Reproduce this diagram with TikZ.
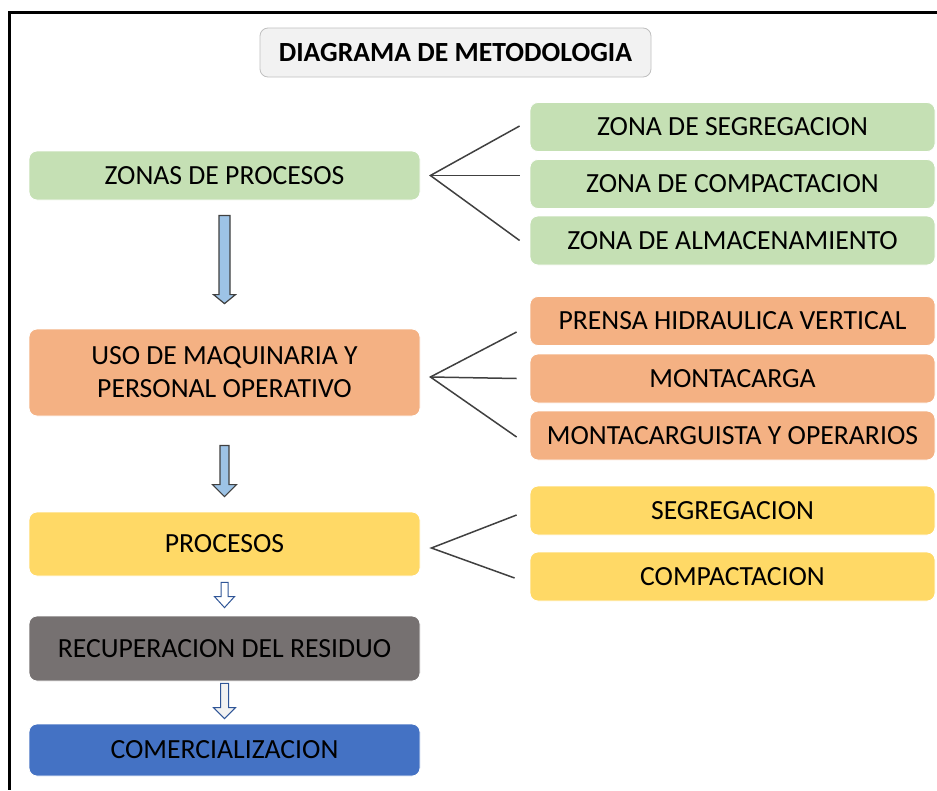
\documentclass[tikz,border=0pt]{standalone}
\usepackage{fontspec}
\setmainfont{Carlito}
\usepackage{xcolor}
\usetikzlibrary{calc}
\definecolor{verde}{HTML}{C5E0B4}
\definecolor{naranja}{HTML}{F4B183}
\definecolor{amarillo}{HTML}{FFD966}
\definecolor{plomo}{HTML}{767171}
\definecolor{azul}{HTML}{4472C4}
\definecolor{fondotit}{HTML}{F2F2F2}
\definecolor{bordetit}{HTML}{BFBFBF}
\definecolor{celeste}{HTML}{9DC3E6}
\definecolor{trazo}{HTML}{404040}
\definecolor{azulosc}{HTML}{2F5597}

% block arrow: style, upper node, lower node, top gap, tip gap, shaft half, head half, head length
\newcommand{\flecha}[8]{%
  \draw[#1] let \p1=(#2.south), \p2=(#3.north) in
    (\x1-#6pt,\y1-#4pt) -- (\x1+#6pt,\y1-#4pt) -- (\x1+#6pt,\y2+#5pt+#8pt)
    -- (\x1+#7pt,\y2+#5pt+#8pt) -- (\x1,\y2+#5pt) -- (\x1-#7pt,\y2+#5pt+#8pt)
    -- (\x1-#6pt,\y2+#5pt+#8pt) -- cycle;}

\begin{document}
\begin{tikzpicture}[x=1pt,y=-1pt]
	\useasboundingbox (0,0) rectangle (937,790);
	\draw[line width=3pt] (937,12) -- (9,12) -- (9,790);
	\tikzstyle{every node}=[font=\fontsize{27.7}{33}\selectfont, rounded corners=8pt, draw=white, line width=0.8pt, inner sep=0pt, align=center]
	\tikzstyle{izq}=[minimum width=391pt]
	\tikzstyle{der}=[minimum width=405pt, minimum height=49pt]
	\draw (455.5,52.5) node (titulo) [fill=fondotit, draw=bordetit, minimum width=391pt, minimum height=49pt]{\bfseries DIAGRAMA DE METODOLOGIA};
	% main column
	\draw (224.5,175.5) node (zonas) [izq, fill=verde, minimum height=49pt]{ZONAS DE PROCESOS};
	\draw (224.5,372.5) node (maquinaria) [izq, fill=naranja, minimum height=87pt]{USO DE MAQUINARIA Y\\PERSONAL OPERATIVO};
	\draw (224.5,544) node (procesos) [izq, fill=amarillo, minimum height=64pt]{PROCESOS};
	\draw (224.5,648.5) node (recuperacion) [izq, fill=plomo, minimum height=65pt]{RECUPERACION DEL RESIDUO};
	\draw (224.5,750) node (comercial) [izq, fill=azul, minimum height=52pt]{COMERCIALIZACION};
	% right column
	\draw (732.5,127) node (zseg) [der, fill=verde]{ZONA DE SEGREGACION};
	\draw (732.5,184) node (zcomp) [der, fill=verde]{ZONA DE COMPACTACION};
	\draw (732.5,240.5) node (zalm) [der, fill=verde]{ZONA DE ALMACENAMIENTO};
	\draw (732.5,321) node (prensa) [der, fill=naranja]{PRENSA HIDRAULICA VERTICAL};
	\draw (732.5,378.5) node (montacarga) [der, fill=naranja]{MONTACARGA};
	\draw (732.5,435.5) node (operarios) [der, fill=naranja]{MONTACARGUISTA Y OPERARIOS};
	\draw (732.5,510.5) node (segreg) [der, fill=amarillo]{SEGREGACION};
	\draw (732.5,576.5) node (compact) [der, fill=amarillo]{COMPACTACION};
	% arrows
	\tikzstyle{llena}=[fill=celeste, draw=trazo, line width=1.2pt]
	\tikzstyle{hueca}=[draw=azulosc, line width=1pt]
	\flecha{llena}{zonas}{maquinaria}{15}{25}{5.5}{11}{9}
	\flecha{llena}{maquinaria}{procesos}{29}{15}{4.5}{12}{12}
	\flecha{hueca, fill=white}{procesos}{recuperacion}{6}{8}{3.5}{10}{11}
	\flecha{hueca, fill=fondotit}{recuperacion}{comercial}{2}{5}{4}{11}{11}
	% branches
	\tikzstyle{rama}=[draw=trazo, line width=1.5pt]
	\coordinate (z0) at ($(zonas.east)+(10,0)$);
	\draw[rama] ($(zseg.west)+(-10,-1)$) -- (z0) -- ($(zalm.west)+(-10,0)$);
	\draw[rama] (z0) -- ($(z0 -| zcomp.west)+(-10,0)$);
	\coordinate (m0) at ($(maquinaria.east)+(10,4.5)$);
	\draw[rama] ($(prensa.west)+(-13,11)$) -- (m0) -- ($(operarios.west)+(-13,1.5)$);
	\draw[rama] (m0) -- ($(montacarga.west)+(-13,0)$);
	\coordinate (p0) at ($(procesos.east)+(11,4)$);
	\draw[rama] ($(segreg.west)+(-13,4.5)$) -- (p0) -- ($(compact.west)+(-15,1.5)$);
\end{tikzpicture}
\end{document}
